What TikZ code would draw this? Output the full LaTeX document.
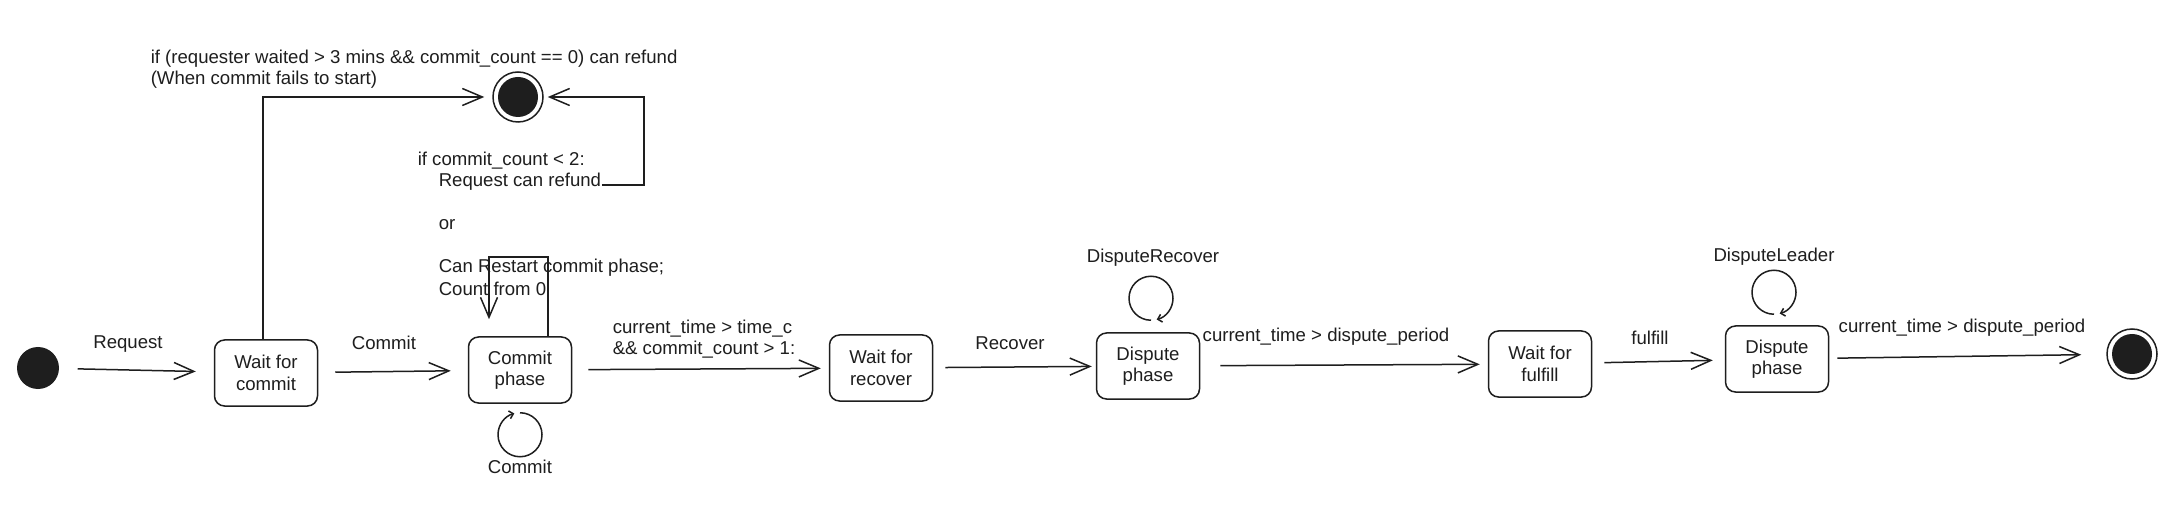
\documentclass[tikz,border=0pt]{standalone}
\usepackage{fontspec}
\setmainfont{Liberation Sans}
\usepackage{tikz}
\usetikzlibrary{arrows.meta}

\definecolor{ink}{HTML}{1E1E1E}

\begin{document}
\begin{tikzpicture}[x=1pt, y=-1pt, color=ink, line width=1.5pt,
        every node/.style={font=\fontsize{18.6}{21.5}\selectfont, text=ink},
        statebox/.style={draw, rounded corners=10pt, minimum width=103pt, minimum height=66pt, align=center},
        startstate/.style={circle, fill=ink, minimum size=42pt, inner sep=0pt},
        endstate/.style={circle, draw, minimum size=50pt, inner sep=0pt,
            path picture={\fill [ink] (path picture bounding box.center) circle (20pt);}},
        arr/.style={-{Straight Barb[length=20pt,width=17pt]}},
        looptip/.style={-{Straight Barb[length=4pt,width=8pt]}},
        lbl/.style={anchor=west, inner sep=0pt, align=left}]
            \useasboundingbox [fill=white] (0,0) rectangle (2176,518);
            \node (start) at (38,368) [startstate] {};
            \node (wait) at (266,373) [statebox] {Wait for\\commit};
            \node (commit) at (520,370) [statebox] {Commit\\phase};
            \node (recover) at (881,368) [statebox] {Wait for\\recover};
            \node (dispute) at (1148,366) [statebox] {Dispute\\phase};
            \node (fulfill) at (1540,364) [statebox] {Wait for\\fulfill};
            \node (leader) at (1777,359) [statebox] {Dispute\\phase};
            \node (finish) at (2132,354) [endstate] {};
            \node (refund) at (518,97) [endstate] {};
            \draw [arr, shorten <=18pt, shorten >=18pt] (start) -- (wait);
            \node (lrequest) at (128,344) {Request};
            \draw [arr, shorten <=17pt, shorten >=17pt] (wait) -- (commit);
            \node (lcommit) at (384,343) {Commit};
            \draw [arr, shorten <=16pt, shorten >=8pt] (commit) -- (recover);
            \node (ltimeout) at (612,339) [lbl] {current\_time > time\_c\\\&\& commit\_count > 1:};
            \draw [arr, shorten <=12pt, shorten >=4pt] (recover) -- (dispute);
            \node (lrecover) at (1010,343) {Recover};
            \draw [arr, shorten <=20pt, shorten >=8pt] (dispute) -- (fulfill);
            \node (lperiod) at (1326,337) {current\_time > dispute\_period};
            \draw [arr, shorten <=12pt, shorten >=12pt] (fulfill) -- (leader);
            \node (lfulfill) at (1650,338) {fulfill};
            \draw [arr, shorten <=8pt, shorten >=25pt] (leader) -- (finish);
            \node (lfinish) at (1962,328) {current\_time > dispute\_period};
            \draw [looptip] ([yshift=-9pt]commit.south) arc (-90:255:22);
            \node (lloop) at (520,467) {Commit};
            \draw [looptip] ([xshift=3pt,yshift=12pt]dispute.north) arc (90:435:22);
            \node (ldispute) at (1153,258) {DisputeRecover};
            \draw [looptip] ([xshift=-3pt,yshift=11pt]leader.north) arc (90:435:22);
            \node (lleader) at (1774,257) {DisputeLeader};
            \draw [arr, shorten >=8pt] ([xshift=-3pt]wait.north) |- (refund);
            \node (lstart) at (150,69) [lbl] {if (requester waited > 3 mins \&\& commit\_count == 0) can refund\\(When commit fails to start)};
            \node (lcond) at (417,161) [lbl] {if commit\_count < 2:};
            \node (canrefund) at (438,182) [lbl] {Request can refund};
            \node (lor) at (438,225) [lbl] {or};
            \node (lrestart) at (438,268) [lbl] {Can Restart commit phase;};
            \node (lcount) at (438,289) [lbl] {Count from 0};
            \draw [arr, shorten >=4pt] ([yshift=-3pt]canrefund.east) -- ++(42,0) |- (refund);
            \draw [arr] ([xshift=28pt]commit.north) -- ++(0,-79) -- ++(-59,0) -- ++(0,62);
        \end{tikzpicture}
\end{document}
